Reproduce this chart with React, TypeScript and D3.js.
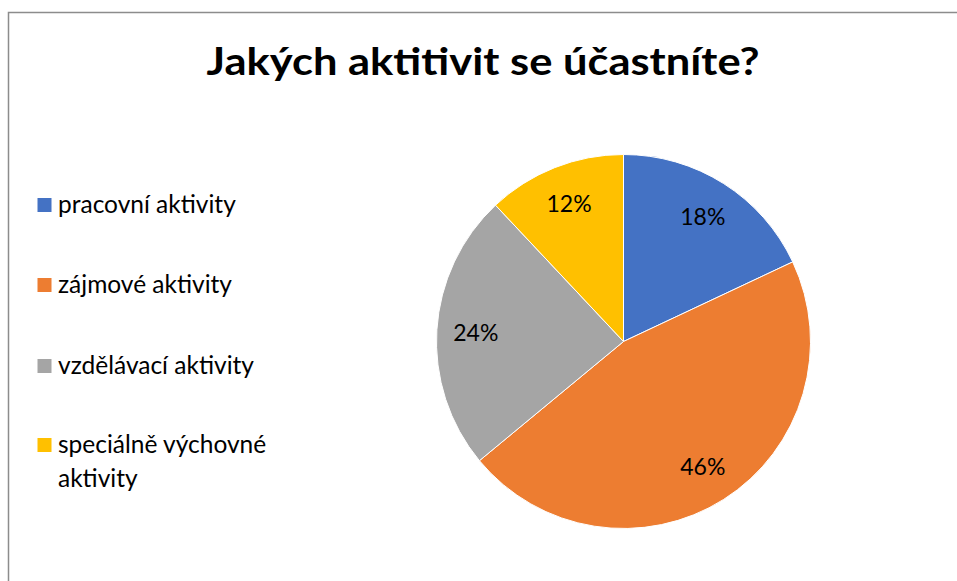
import React from 'react';
import * as d3 from 'd3';

const categories = ['pracovní aktivity', 'zájmové aktivity', 'vzdělávací aktivity', 'speciálně výchovné aktivity'];
const legendLines = [['pracovní aktivity'], ['zájmové aktivity'], ['vzdělávací aktivity'], ['speciálně výchovné', 'aktivity']];
const values = [18, 46, 24, 12];
const colors = ['#4472C4', '#ED7D31', '#A5A5A5', '#FFC000'];
const title = 'Jakých aktitivit se účastníte?';

const W = 957;
const H = 581;
const FONT = 'Lato, "Open Sans", sans-serif';

const App: React.FC = () => {
  const cx = 623.5;
  const cy = 341.5;
  const r = 187;

  const pie = d3.pie<number>().sort(null).value(d => d);
  const arcs = pie(values);
  const arc = d3.arc<d3.PieArcDatum<number>>().innerRadius(0).outerRadius(r);
  const labelArc = d3.arc<d3.PieArcDatum<number>>().innerRadius(148).outerRadius(148);
  const total = d3.sum(values);
  const fmt = d3.format('.0%');

  return (
    <div style={{ position: 'fixed', left: 0, top: 0, width: W, height: H, background: '#fff' }}>
      <svg width={W} height={H} style={{ display: 'block' }}>
        {/* chart area frame, runs off the right and bottom edge */}
        <rect x={8.5} y={12.5} width={W + 20} height={H + 20} fill="#fff" stroke="#8c8c8c" strokeWidth={1.5} />

        <text x={483} y={75} textAnchor="middle" fontFamily={FONT} fontWeight="bold" fontSize={38}
          fill="#000" textLength={553} lengthAdjust="spacingAndGlyphs">{title}</text>

        <g transform={`translate(${cx},${cy})`}>
          {arcs.map((a, i) => (
            <path key={categories[i]} d={arc(a) || ''} fill={colors[i]} stroke="#fff" strokeWidth={1} />
          ))}
          {arcs.map((a, i) => {
            const [lx, ly] = labelArc.centroid(a);
            return (
              <text key={'l' + i} x={lx} y={ly} dy="0.36em" textAnchor="middle" fontFamily={FONT}
                fontSize={23} fill="#000">{fmt(values[i] / total)}</text>
            );
          })}
        </g>

        <g>
          {legendLines.map((lines, i) => {
            const base = [213, 293, 374, 453][i];
            return (
              <g key={categories[i]}>
                <rect x={37.5} y={base - 15} width={14} height={14} fill={colors[i]} />
                {lines.map((ln, j) => (
                  <text key={j} x={58} y={base + j * 34} fontFamily={FONT} fontSize={24.5} fill="#000">{ln}</text>
                ))}
              </g>
            );
          })}
        </g>
      </svg>
    </div>
  );
};

export default App;
